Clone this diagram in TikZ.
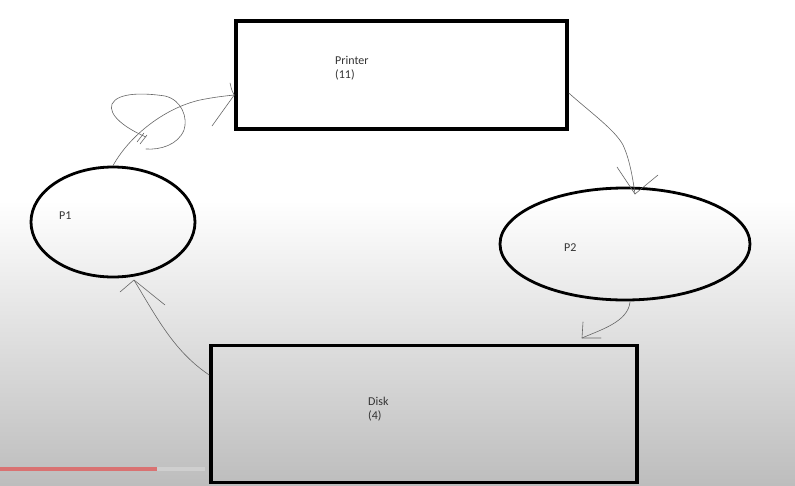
\documentclass[tikz,border=0pt]{standalone}
\usepackage{fontspec}
\setmainfont{Carlito}
\usetikzlibrary{shapes.geometric}
\definecolor{bggray}{HTML}{BDBDBD}
\definecolor{inkgray}{HTML}{666666}
\definecolor{txtgray}{HTML}{333333}
\definecolor{barred}{HTML}{D97272}
\definecolor{bargray}{HTML}{CFCFCF}
\tikzset{
  box/.style={draw=black, line width=3.5pt, inner sep=0pt},
  proc/.style={draw=black, ellipse, line width=2.8pt, inner sep=0pt},
  lbl/.style={font=\fontsize{12}{14}\selectfont, text=txtgray, align=left, inner sep=0pt},
  ink/.style={draw=inkgray, line width=0.6pt, line cap=round, line join=round},
}
\begin{document}
\begin{tikzpicture}[x=1pt,y=-1pt]
\useasboundingbox (0,0) rectangle (795,485);
\fill[white] (0,0) rectangle (795,200);
\shade[top color=white, bottom color=bggray] (0,200) rectangle (795,485);
% progress bar
\fill[bargray] (157,467) rectangle (205,471);
\fill[barred] (0,467) rectangle (157,471);
% shapes
\node[box, minimum width=331pt, minimum height=108pt] (printer) at (401.5,75) {};
\node[box, minimum width=426pt, minimum height=137pt] (disk) at (424,414) {};
\node[proc, minimum width=164pt, minimum height=110pt] (p1) at (113,222) {};
\node[proc, minimum width=250pt, minimum height=112pt] (p2) at (625,244) {};
% labels
\node[lbl, anchor=north west] (tprinter) at (335,56) {Printer\\(11)};
\node[lbl, anchor=north west] (tdisk) at (368,397) {Disk\\(4)};
\node[lbl, anchor=west] (tp1) at (59,216) {P1};
\node[lbl, anchor=west] (tp2) at (564,248) {P2};
% P1 -> Printer
\coordinate (a1s) at (p1.north);
\coordinate (a1t) at ([yshift=-20pt]printer.west);
\draw[ink] (a1s) .. controls (130,135) and (165,108) .. (200,100) .. controls (215,97) and (225,96) .. (a1t)
  .. controls (231,90) and (231,86) .. (230,83);
\draw[ink] (a1t) -- (212,126);
\draw[ink] (146,137) .. controls (125,128) and (108,115) .. (112,104)
  .. controls (118,92) and (145,93) .. (165,96)
  .. controls (182,100) and (188,118) .. (184,130)
  .. controls (178,145) and (160,150) .. (146,149);
\draw[ink] (140,144) -- (147,135);
\draw[ink] (137,142) -- (144,133);
% Printer -> P2
\coordinate (a2s) at ([yshift=-18pt]printer.east);
\coordinate (a2t) at (635,194);
\draw[ink] (a2s) .. controls (590,112) and (615,130) .. (623,145) .. controls (630,160) and (633,180) .. (a2t);
\draw[ink] (617,167) -- (a2t) -- (658,175);
% P2 -> Disk
\coordinate (a3s) at (630,302);
\coordinate (a3t) at (582,338);
\draw[ink] (a3s) .. controls (628,322) and (600,330) .. (a3t);
\draw[ink] (583,322) -- (a3t) -- (601,338);
% Disk -> P1
\coordinate (a4s) at ([yshift=39pt]disk.west);
\coordinate (a4t) at (134,280);
\draw[ink] (a4s) .. controls (175,352) and (158,320) .. (a4t);
\draw[ink] (120,292) -- (a4t) -- (165,305);
\end{tikzpicture}
\end{document}
